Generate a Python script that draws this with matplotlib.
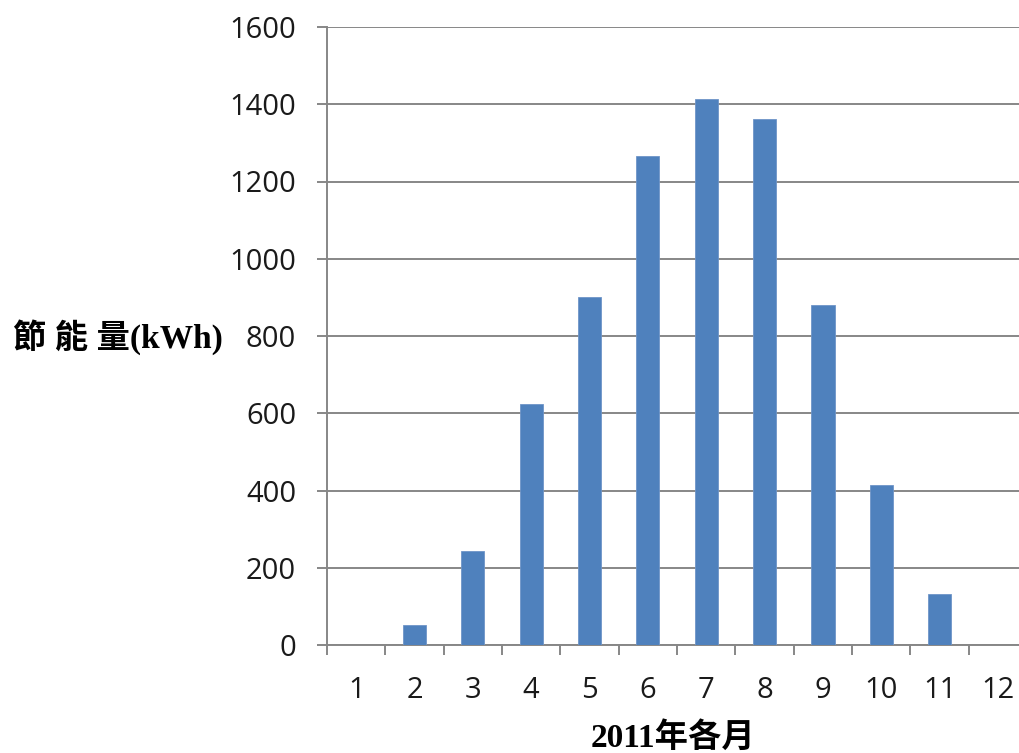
import matplotlib
matplotlib.use("Agg")
import matplotlib.pyplot as plt
import numpy as np

months = ["1", "2", "3", "4", "5", "6", "7", "8", "9", "10", "11", "12"]
savings = [0, 51, 244, 624, 901, 1267, 1413, 1363, 880, 414, 131, 0]
yticks = [0, 200, 400, 600, 800, 1000, 1200, 1400, 1600]
xlabel = "2011年各月"
ylabel = "節 能 量(kWh)"

W, H = 1019, 753
fig = plt.figure(figsize=(W / 100, H / 100), dpi=100)
ax = fig.add_axes([327 / W, 1 - 645 / H, (1027 - 327) / W, (645 - 27) / H])

grid_c = "#878787"
bar_c = "#4F81BD"
x = np.arange(1, len(months) + 1)
ax.bar(x, savings, width=0.4, color=bar_c, edgecolor="#6F95C8", linewidth=0.6, zorder=3)

ax.set_xlim(0.5, len(months) + 0.5)
ax.set_ylim(yticks[0], yticks[-1])
ax.set_yticks(yticks)
ax.set_yticklabels([str(v) for v in yticks], family="Open Sans", fontsize=21, color="#1a1a1a")
ax.yaxis.grid(True, color=grid_c, linewidth=1.4, zorder=0)
ax.set_axisbelow(True)

ax.set_xticks(x)
ax.set_xticklabels(months, family="Open Sans", fontsize=21, color="#1a1a1a")
ax.set_xticks(np.arange(0.5, len(months) + 1.0, 1.0), minor=True)
ax.tick_params(axis="x", which="major", length=0, pad=22)
ax.tick_params(axis="x", which="minor", length=7.2, width=1.4, color=grid_c, direction="out")
ax.tick_params(axis="y", which="major", length=7.2, width=1.4, color=grid_c, direction="out", pad=15)

for s in ["top", "right"]:
    ax.spines[s].set_visible(False)
for s in ["left", "bottom"]:
    ax.spines[s].set_color(grid_c)
    ax.spines[s].set_linewidth(1.4)

fam = ["Liberation Serif", "Noto Sans CJK TC"]
fig.text(13 / W, 1 - 337 / H, ylabel, family=fam, fontweight="bold", fontsize=24,
         ha="left", va="center", color="black")
fig.text(673 / W, 1 - 738 / H, xlabel, family=fam, fontweight="bold", fontsize=24,
         ha="center", va="center", color="black")

fig.savefig("out.png", dpi=100)
